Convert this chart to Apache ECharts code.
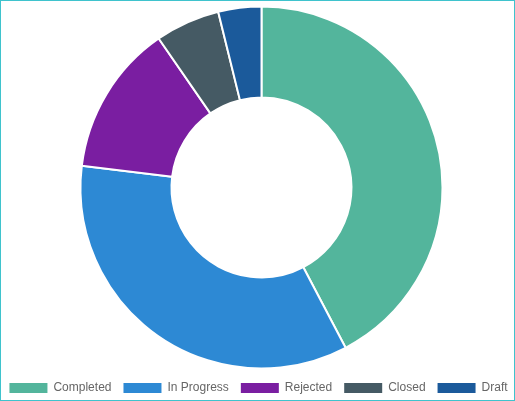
<!DOCTYPE html>
<html>
<head>
<meta charset="utf-8">
<script src="https://cdn.jsdelivr.net/npm/echarts@6/dist/echarts.min.js"></script>
<style>
    html, body { margin: 0; padding: 0; background: #fff; }
    #frame {
        width: 515px;
        height: 401px;
        box-sizing: border-box;
        border: 1px solid #3fc3cd;
    }
    #status_donut { width: 513px; height: 399px; }
</style>
</head>
<body>
<div id="frame"><div id="status_donut"></div></div>
<script>

// Chart data
// ------------------------------

var categories = ['Completed', 'In Progress', 'Rejected', 'Closed', 'Draft'];
var counts = [22, 18, 7, 3, 2];
var colors = ['#53b59c', '#2d89d4', '#7a1ea1', '#455a64', '#1b5a9b'];


// Setup module
// ------------------------------

var EchartsStatusDonut = function() {

    var _statusDonut = function() {
        if (typeof echarts == 'undefined') {
            console.warn('Warning - echarts.min.js is not loaded.');
            return;
        }

        var donut_element = document.getElementById('status_donut');
        if (!donut_element) return;

        var donut = echarts.init(donut_element);

        var pieData = categories.map(function(name, i) {
            return { name: name, value: counts[i] };
        });

        donut.setOption({

            color: colors,

            textStyle: {
                fontFamily: 'Arial, "Liberation Sans", sans-serif',
                fontSize: 12
            },

            animation: false,

            // Legend along the bottom
            legend: {
                data: categories,
                bottom: 5,
                left: 'center',
                width: 510,
                padding: 0,
                itemWidth: 40,
                itemHeight: 12,
                itemGap: 10,
                icon: 'rect',
                textStyle: {
                    color: '#666',
                    fontSize: 12
                }
            },

            tooltip: {
                trigger: 'item'
            },

            series: [{
                name: 'Status',
                type: 'pie',
                center: [260.5, 186.5],
                radius: [90, 181],
                startAngle: 90,
                clockwise: true,
                avoidLabelOverlap: false,
                label: { show: false },
                labelLine: { show: false },
                itemStyle: {
                    borderColor: '#fff',
                    borderWidth: 2
                },
                emphasis: { scale: false },
                data: pieData
            }]
        });

        window.addEventListener('resize', function() {
            donut.resize();
        });
    };

    return {
        init: function() {
            _statusDonut();
        }
    }
}();

document.addEventListener('DOMContentLoaded', function() {
    EchartsStatusDonut.init();
});
</script>
</body>
</html>
